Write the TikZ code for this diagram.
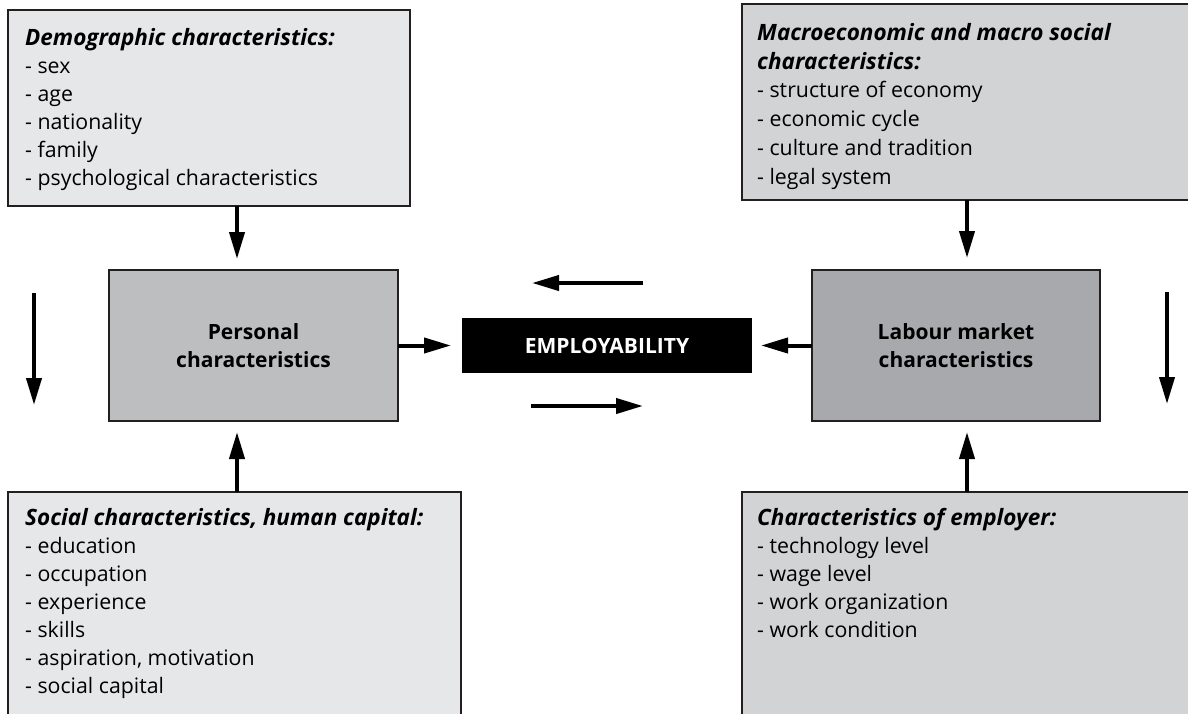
\documentclass[tikz,border=0pt]{standalone}
\usepackage{fontspec}
\setmainfont{Open Sans}
\usepackage{xcolor}
\usetikzlibrary{positioning, arrows.meta}

\definecolor{leftfill}{HTML}{E6E7E8}
\definecolor{rightfill}{HTML}{D1D3D4}
\definecolor{personalfill}{HTML}{BCBEC0}
\definecolor{labourfill}{HTML}{A7A9AC}
\definecolor{edgecol}{HTML}{231F20}

\newcommand{\factorhead}[1]{{\fontsize{22.5}{28}\selectfont\bfseries\itshape #1}}

\tikzset{
	factor/.style={draw=edgecol, line width=1.5pt, inner sep=0pt, outer sep=0pt, anchor=north west},
	factortext/.style={anchor=north west, align=left, inner sep=0pt, font=\fontsize{21.3}{28}\selectfont},
	core/.style={draw=edgecol, line width=1.5pt, minimum height=151pt, align=center, outer sep=0pt, font=\fontsize{21}{28}\selectfont\bfseries},
	link/.style={line width=4pt, -{Triangle[length=27pt,width=15pt]}},
}

\begin{document}
\begin{tikzpicture}[x=1pt, y=-1pt]
		\useasboundingbox (0,0) rectangle (1188,713);
		\clip (0,0) rectangle (1188,713);
		
		\node[fill=black, text=white, minimum width=290pt, minimum height=55pt, outer sep=0pt, font=\fontsize{21}{26}\selectfont\bfseries] (emp) at (607,345.5) {EMPLOYABILITY};
		\node[core, fill=personalfill, minimum width=289pt, left=64pt of emp] (personal) {Personal\\characteristics};
		\node[core, fill=labourfill, minimum width=288pt, right=60pt of emp] (labour) {Labour market\\characteristics};
		
		\node[factor, fill=leftfill, minimum width=402pt, minimum height=196pt] (demo) at (8,10) {};
		\node[factor, fill=rightfill, minimum width=480pt, minimum height=196pt] (macro) at (742,4) {};
		\node[factor, fill=leftfill, minimum width=453pt, minimum height=260pt] (social) at (8,492) {};
		\node[factor, fill=rightfill, minimum width=480pt, minimum height=260pt] (employer) at (742,492) {};
		
		\node[factortext] (demotext) at (25,28) {\factorhead{Demographic characteristics:}\\- sex\\- age\\- nationality\\- family\\- psychological characteristics};
		\node[factortext, font=\fontsize{21.3}{28.8}\selectfont] (macrotext) at (757,23) {\factorhead{Macroeconomic and macro social}\\\factorhead{characteristics:}\\- structure of economy\\- economic cycle\\- culture and tradition\\- legal system};
		\node[factortext] (socialtext) at (25,508) {\factorhead{Social characteristics, human capital:}\\- education\\- occupation\\- experience\\- skills\\- aspiration, motivation\\- social capital};
		\node[factortext] (employertext) at (757,508) {\factorhead{Characteristics of employer:}\\- technology level\\- wage level\\- work organization\\- work condition};
		
		\coordinate (lx) at (237,0);
		\coordinate (rx) at (967,0);
		\coordinate (lt) at (34,293);
		\coordinate (lb) at (34,405);
		\coordinate (rt) at (1167,292);
		\coordinate (rb) at (1167,404);
		\coordinate (ut) at (643,283);
		\coordinate (uh) at (532,283);
		\coordinate (dt) at (531,406);
		\coordinate (dh) at (643,406);
		
		\draw[link, shorten >=11pt] (personal.east) -- (emp.west);
		\draw[link, shorten >=9pt] (labour.west) -- (emp.east);
		\draw[link, shorten >=11pt] (demo.south -| lx) -- (personal.north -| lx);
		\draw[link, shorten >=12pt] (macro.south -| rx) -- (labour.north -| rx);
		\draw[link, shorten >=11pt] (social.north -| lx) -- (personal.south -| lx);
		\draw[link, shorten >=11pt] (employer.north -| rx) -- (labour.south -| rx);
		\draw[link] (lt) -- (lb);
		\draw[link] (rt) -- (rb);
		\draw[link] (ut) -- (uh);
		\draw[link] (dt) -- (dh);
	\end{tikzpicture}
\end{document}
